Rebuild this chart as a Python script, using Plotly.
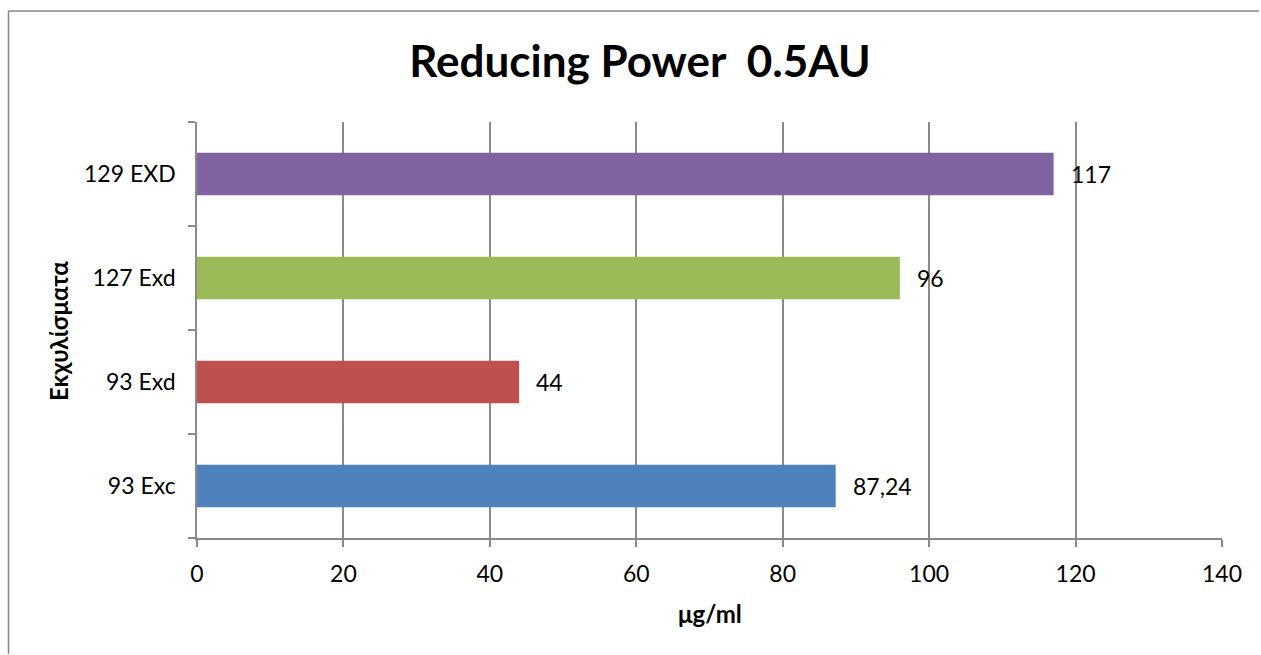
import plotly.graph_objects as go

# Extract samples and the concentration reaching 0.5 absorbance units
samples = ["93 Exc", "93 Exd", "127 Exd", "129 EXD"]
values = [87.24, 44, 96, 117]
colors = ["#4F81BD", "#C0504D", "#9BBB59", "#8064A2"]
x_ticks = [0, 20, 40, 60, 80, 100, 120, 140]

FONT = "Lato"
GRID = "#8a8a8a"

W, H = 1261, 655
L, R, T, B = 197, 39, 122, 117
PW, PH = W - L - R, H - T - B


def px_x(px):
    return (px - L) / PW


def px_y(py):
    return (H - B - py) / PH


def fmt(v):
    return f"{v:g}".replace(".", ",")


fig = go.Figure(
    go.Bar(
        x=values,
        y=samples,
        orientation="h",
        width=0.41,
        marker=dict(color=colors, line=dict(width=0)),
        hoverinfo="x+y",
    )
)

# value labels beside each bar
for s, v in zip(samples, values):
    fig.add_annotation(
        x=v, y=s, xref="x", yref="y", text=fmt(v), showarrow=False,
        xanchor="left", yanchor="middle", xshift=15,
        font=dict(family=FONT, size=23, color="#000000"),
    )

# axis titles
fig.add_annotation(
    x=px_x(58), y=px_y(331), xref="paper", yref="paper", text="<b>Εκχυλίσματα</b>",
    textangle=-90, showarrow=False, xanchor="center", yanchor="middle",
    font=dict(family=FONT, size=24, color="#000000"),
)
fig.add_annotation(
    x=0.5, y=px_y(613), xref="paper", yref="paper", text="<b>μg/ml</b>",
    showarrow=False, xanchor="center", yanchor="middle",
    font=dict(family=FONT, size=24, color="#000000"),
)

# chart frame: left and top edges only
frame = dict(color="#868686", width=1.5)
fig.add_shape(type="line", xref="paper", yref="paper",
              x0=px_x(8.5), x1=px_x(8.5), y0=px_y(H - 1), y1=px_y(11), line=frame)
fig.add_shape(type="line", xref="paper", yref="paper",
              x0=px_x(8.5), x1=px_x(W - 2), y0=px_y(11), y1=px_y(11), line=frame)

fig.update_layout(
    width=W, height=H,
    margin=dict(l=L, r=R, t=T, b=B, pad=0),
    paper_bgcolor="#ffffff", plot_bgcolor="#ffffff",
    showlegend=False,
    title=dict(
        text="<b>Reducing Power  0.5AU</b>",
        x=640 / W, xref="container", xanchor="center",
        y=1 - 62 / H, yref="container", yanchor="middle",
        font=dict(family=FONT, size=44, color="#000000"),
    ),
    xaxis=dict(
        range=[0, 140], tickvals=x_ticks, ticktext=[str(t) for t in x_ticks],
        showgrid=True, gridcolor=GRID, gridwidth=1.5,
        showline=True, linecolor=GRID, linewidth=1.5,
        ticks="outside", ticklen=7, tickcolor=GRID, tickwidth=1.5,
        zeroline=False, ticklabelstandoff=8,
        tickfont=dict(family=FONT, size=23, color="#000000"),
    ),
    yaxis=dict(
        type="category", categoryorder="array", categoryarray=samples,
        range=[-0.5, 3.5],
        showgrid=False, showline=True, linecolor=GRID, linewidth=1.5,
        ticks="outside", ticklen=7, tickcolor=GRID, tickwidth=1.5,
        tickson="boundaries", zeroline=False, ticklabelstandoff=15,
        tickfont=dict(family=FONT, size=23, color="#000000"),
    ),
)

fig.write_html("out.html", config={"displayModeBar": False})
